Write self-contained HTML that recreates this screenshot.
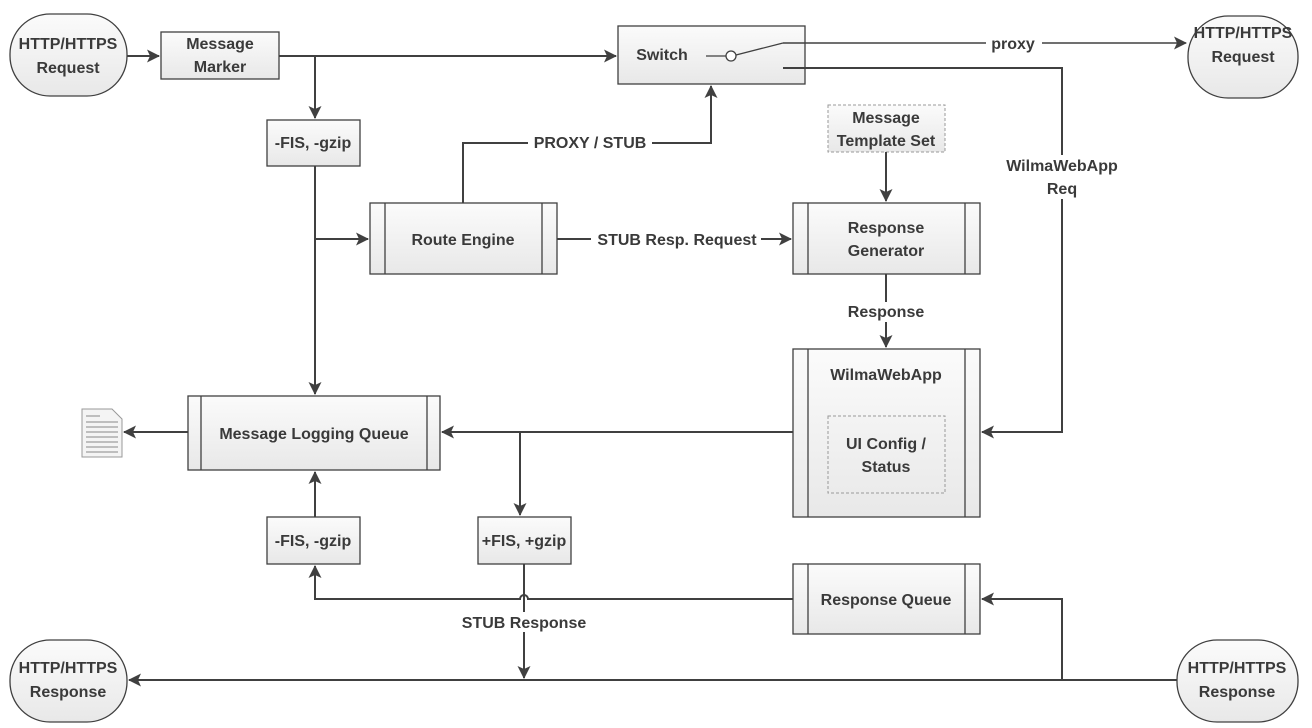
<!DOCTYPE html>
<html><head><meta charset="utf-8"><style>
html,body{margin:0;padding:0;background:#fff}
svg{display:block}
text{font-family:"Liberation Sans",sans-serif;font-weight:bold;font-size:16px;fill:#3a3a3a;text-anchor:middle;dominant-baseline:middle}
</style></head><body>
<svg width="1312" height="728" viewBox="0 0 1312 728" xmlns="http://www.w3.org/2000/svg">
<defs>
<linearGradient id="g" x1="0" y1="0" x2="0" y2="1"><stop offset="0" stop-color="#fbfbfb"/><stop offset="1" stop-color="#e8e8e8"/></linearGradient>
<marker id="a" markerWidth="13" markerHeight="13" refX="12" refY="6.5" orient="auto" markerUnits="userSpaceOnUse"><path d="M0,0 L13,6.5 L0,13 L3,6.5 z" fill="#404040"/></marker>
</defs>
<g fill="url(#g)" stroke="#404040" stroke-width="1.3">
<rect x="10" y="14" width="117" height="82" rx="40"/>
<rect x="1188" y="16" width="110" height="82" rx="40"/>
<rect x="10" y="640" width="117" height="82" rx="40"/>
<rect x="1177" y="640" width="121" height="82" rx="40"/>
<rect x="161" y="32" width="118" height="47"/>
<rect x="267" y="120" width="93" height="46"/>
<rect x="618" y="26" width="187" height="58"/>
<rect x="370" y="203" width="187" height="71"/>
<rect x="793" y="203" width="187" height="71"/>
<rect x="793" y="349" width="187" height="168"/>
<rect x="188" y="396" width="252" height="74"/>
<rect x="267" y="517" width="93" height="47"/>
<rect x="478" y="517" width="93" height="47"/>
<rect x="793" y="564" width="187" height="70"/>
</g>
<g stroke="#404040" stroke-width="1.3" fill="none">
<path d="M385,203V274M542,203V274M808,203V274M965,203V274M808,349V517M965,349V517M201,396V470M427,396V470M808,564V634M965,564V634"/>
</g>
<rect x="828" y="105" width="117" height="47" fill="url(#g)" stroke="#999" stroke-dasharray="3,2"/>
<rect x="828" y="416" width="117" height="77" fill="none" stroke="#999" stroke-dasharray="3,2"/>
<g stroke="#999" fill="#f4f4f4"><path d="M82,409H112L122,419V457H82Z"/></g>
<g stroke="#888"><path d="M86,416H100M86,422H118M86,427H118M86,432H118M86,437H118M86,442H118M86,447H118M86,452H118"/></g>
<g stroke="#404040" stroke-width="2" fill="none">
<path d="M127,56H159" marker-end="url(#a)"/>
<path d="M279,56H616" marker-end="url(#a)"/>
<path d="M315,56V118" marker-end="url(#a)"/>
<path d="M315,166V394" marker-end="url(#a)"/>
<path d="M315,239H368" marker-end="url(#a)"/>
<path d="M463,203V143H711V86" marker-end="url(#a)"/>
<path d="M557,239H791" marker-end="url(#a)"/>
<path d="M783,68H1062V432H982" marker-end="url(#a)"/>
<path d="M886,152V201" marker-end="url(#a)"/>
<path d="M886,274V347" marker-end="url(#a)"/>
<path d="M793,432H442" marker-end="url(#a)"/>
<path d="M520,432V515" marker-end="url(#a)"/>
<path d="M188,432H124" marker-end="url(#a)"/>
<path d="M315,517V472" marker-end="url(#a)"/>
<path d="M793,599H528A4,4 0 0 0 520,599H315V566" marker-end="url(#a)"/>
<path d="M524,564V678" marker-end="url(#a)"/>
<path d="M1177,680H129" marker-end="url(#a)"/>
<path d="M1062,680V599H982" marker-end="url(#a)"/>
</g>
<g stroke="#404040" stroke-width="1.3" fill="none">
<path d="M706,56H726M736,55L783,43"/>
<circle cx="731" cy="56" r="5" fill="#fff"/>
</g>
<path d="M783,43H1186" stroke="#404040" stroke-width="1.5" marker-end="url(#a)"/>
<g fill="#fff">
<rect x="528" y="133" width="124" height="20"/>
<rect x="591" y="229" width="170" height="20"/>
<rect x="986" y="33" width="56" height="20"/>
<rect x="840" y="302" width="92" height="20"/>
<rect x="457" y="612" width="134" height="20"/>
<rect x="995" y="155" width="134" height="44"/>
</g>
<text x="68" y="45">HTTP/HTTPS</text><text x="68" y="69">Request</text>
<text x="1243" y="34">HTTP/HTTPS</text><text x="1243" y="58">Request</text>
<text x="68" y="669">HTTP/HTTPS</text><text x="68" y="693">Response</text>
<text x="1237" y="669">HTTP/HTTPS</text><text x="1237" y="693">Response</text>
<text x="220" y="45">Message</text><text x="220" y="68">Marker</text>
<text x="313" y="144">-FIS, -gzip</text>
<text x="662" y="56">Switch</text>
<text x="886" y="119">Message</text><text x="886" y="142">Template Set</text>
<text x="463" y="241">Route Engine</text>
<text x="886" y="229">Response</text><text x="886" y="252">Generator</text>
<text x="886" y="376">WilmaWebApp</text>
<text x="886" y="445">UI Config /</text><text x="886" y="468">Status</text>
<text x="314" y="435">Message Logging Queue</text>
<text x="313" y="542">-FIS, -gzip</text>
<text x="524" y="542">+FIS, +gzip</text>
<text x="886" y="601">Response Queue</text>
<text x="590" y="144">PROXY / STUB</text>
<text x="677" y="241">STUB Resp. Request</text>
<text x="1013" y="45">proxy</text>
<text x="1062" y="167">WilmaWebApp</text><text x="1062" y="190">Req</text>
<text x="886" y="313">Response</text>
<text x="524" y="624">STUB Response</text>
</svg>
</body></html>
